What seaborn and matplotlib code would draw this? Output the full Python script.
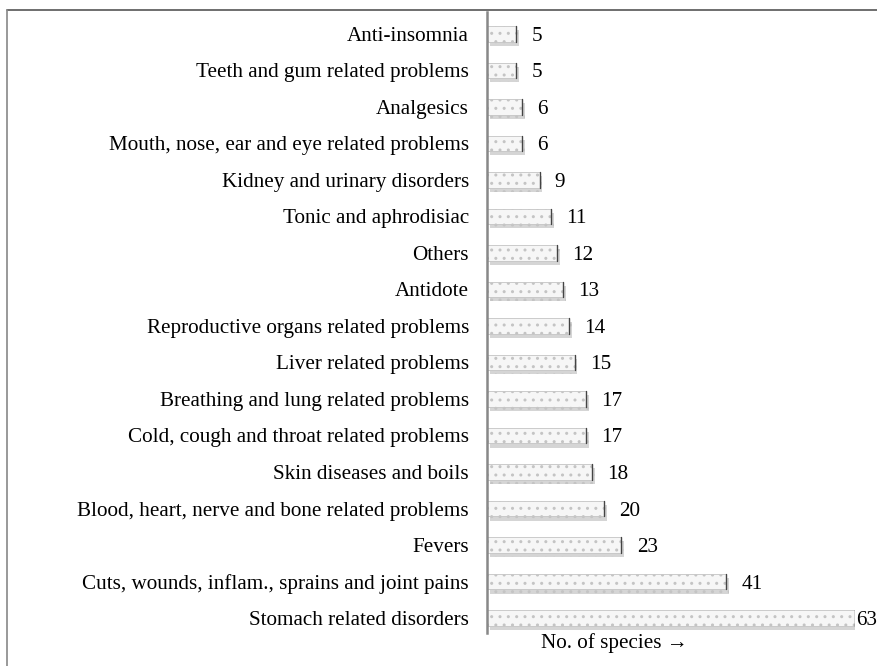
import numpy as np
import pandas as pd
import seaborn as sns
import matplotlib.pyplot as plt
from matplotlib.lines import Line2D
import matplotlib.patheffects as pe

categories = [
    "Anti-insomnia",
    "Teeth and gum related problems",
    "Analgesics",
    "Mouth, nose, ear and eye related problems",
    "Kidney and urinary disorders",
    "Tonic and aphrodisiac",
    "Others",
    "Antidote",
    "Reproductive organs related problems",
    "Liver related problems",
    "Breathing and lung related problems",
    "Cold, cough and throat related problems",
    "Skin diseases and boils",
    "Blood, heart, nerve and bone related problems",
    "Fevers",
    "Cuts, wounds, inflam., sprains and joint pains",
    "Stomach related disorders",
]
species = [5, 5, 6, 6, 9, 11, 12, 13, 14, 15, 17, 17, 18, 20, 23, 41, 63]

df = pd.DataFrame({"use": categories, "n": species})

sns.set_style("white")
plt.rcParams["font.family"] = ["Liberation Serif", "DejaVu Serif"]
plt.rcParams["text.color"] = "black"
plt.rcParams["ytick.color"] = "black"
plt.rcParams["hatch.color"] = "#555555"
plt.rcParams["hatch.linewidth"] = 1.0

fs = 15.2

fig = plt.figure(figsize=(8.77, 6.66), dpi=100)
ax = fig.add_axes([487 / 877, 1 - 633 / 666, (855 - 487) / 877, (633 - 12) / 666])

sns.barplot(data=df, x="n", y="use", orient="h", color="white", width=0.43, ax=ax)

for bar in ax.patches:
    bar.set_facecolor("#f6f6f6")
    bar.set_edgecolor("#c4c4c4")
    bar.set_linewidth(0.6)
    bar.set_hatch("..")
    bar.set_path_effects([
        pe.SimplePatchShadow(offset=(2, -3), shadow_rgbFace="#888888", alpha=0.35),
        pe.Normal(),
    ])
    # darker right end
    x1 = bar.get_x() + bar.get_width()
    y0 = bar.get_y()
    ax.plot([x1, x1], [y0, y0 + bar.get_height()], color="#444444", lw=1.0)

for i, v in enumerate(species):
    pad = 1 if v == max(species) else 11
    ax.annotate(str(v), (v, i), xytext=(pad, 0), textcoords="offset points",
                va="center_baseline", ha="left", fontsize=fs, annotation_clip=False)

ax.set_xlim(0, 63)
ax.set_ylim(16.41, -0.6)
ax.set_xticks([])
ax.set_xlabel("")
ax.set_ylabel("")
ax.tick_params(axis="y", length=0, pad=13, labelsize=fs, labelcolor="black")

for s in ["top", "right", "bottom"]:
    ax.spines[s].set_visible(False)
ax.spines["left"].set_color("#888888")
ax.spines["left"].set_linewidth(1.8)

fig.text(614 / 877, 1 - 643 / 666, "No. of species \u2192", ha="center", va="center", fontsize=fs)

# outer frame lines
fig.add_artist(Line2D([7 / 877, 1], [1 - 10 / 666, 1 - 10 / 666], color="#555555", lw=1.2))
fig.add_artist(Line2D([7 / 877, 7 / 877], [0, 1 - 10 / 666], color="#888888", lw=1.2))

fig.savefig("out.png", dpi=100)
